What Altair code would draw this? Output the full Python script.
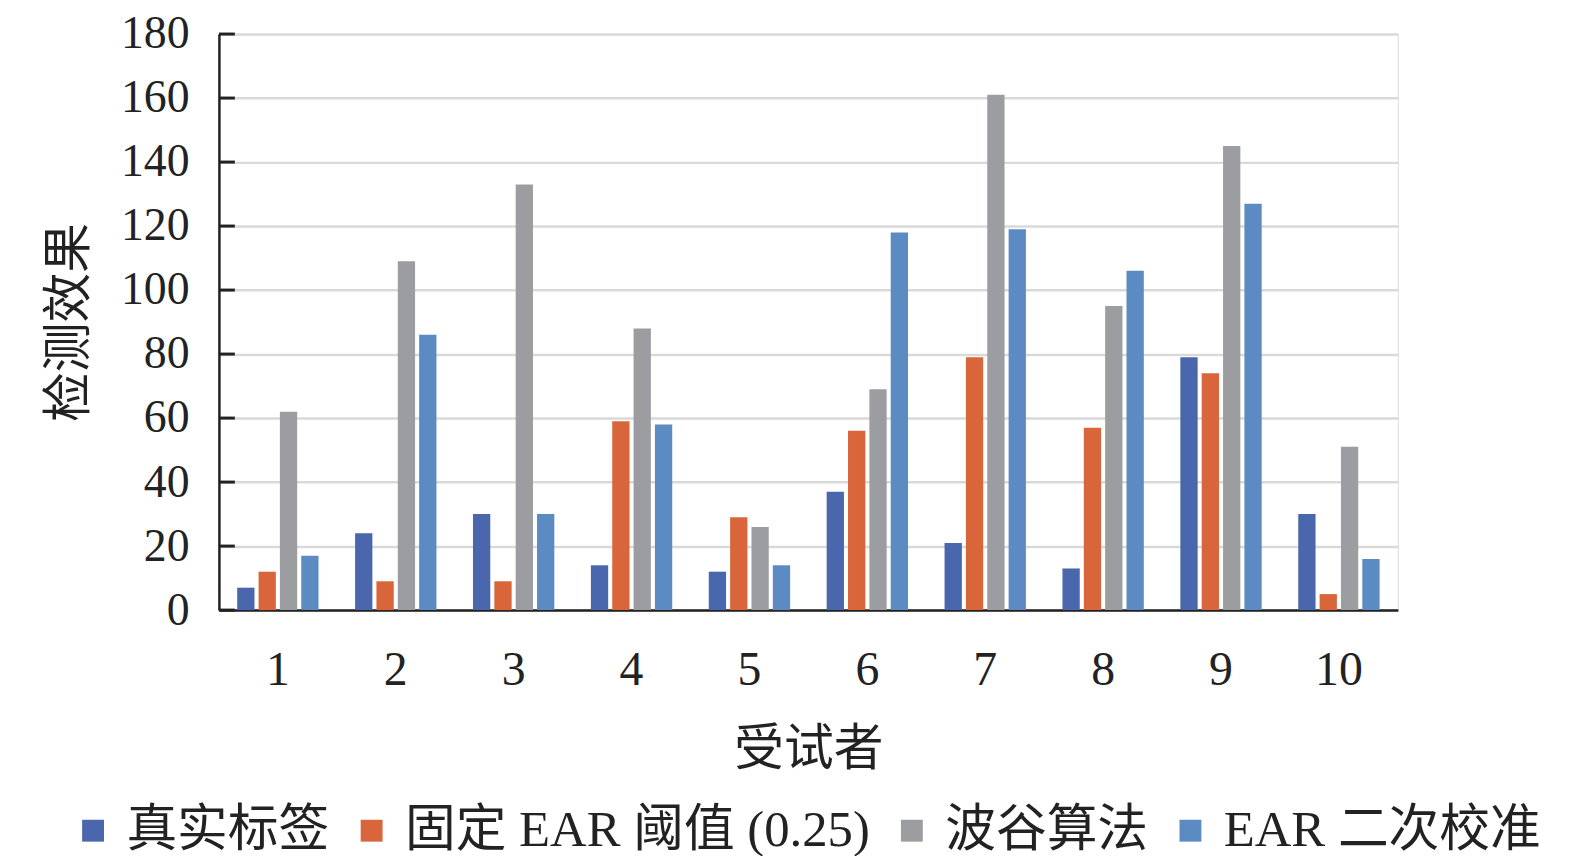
import altair as alt
import pandas as pd

subjects = ["1", "2", "3", "4", "5", "6", "7", "8", "9", "10"]
series = ["真实标签", "固定 EAR 阈值 (0.25)", "波谷算法", "EAR 二次校准"]
true_labels = [7, 24, 30, 14, 12, 37, 21, 13, 79, 30]
fixed_ear = [12, 9, 9, 59, 29, 56, 79, 57, 74, 5]
valley = [62, 109, 133, 88, 26, 69, 161, 95, 145, 51]
ear_recal = [17, 86, 30, 58, 14, 118, 119, 106, 127, 16]
colors = ["#4a66ad", "#d9663a", "#9c9da1", "#5b8bc2"]
y_ticks = [0, 20, 40, 60, 80, 100, 120, 140, 160, 180]

rows = []
for name, vals in zip(series, [true_labels, fixed_ear, valley, ear_recal]):
    for s, v in zip(subjects, vals):
        rows.append({"subject": s, "series": name, "value": v})
df = pd.DataFrame(rows)
ticks_df = pd.DataFrame({"v": y_ticks})

LATIN = "Liberation Serif"
MIXED = "Liberation Serif, Noto Sans CJK SC"
CJK = "Noto Sans CJK SC"

yscale = alt.Scale(domain=[0, 180], nice=False)

bars = alt.Chart(df).mark_bar().encode(
    x=alt.X(
        "subject:N",
        sort=subjects,
        scale=alt.Scale(paddingInner=0.31, paddingOuter=0.155),
        axis=alt.Axis(
            title="受试者",
            titleFont=CJK,
            titleFontSize=50,
            titleFontWeight="normal",
            titleColor="#222222",
            titlePadding=30,
            labelFont=LATIN,
            labelFontSize=48,
            labelColor="#222222",
            labelAngle=0,
            labelPadding=37,
            ticks=False,
            domainColor="#222222",
            domainWidth=2.5,
            grid=False,
        ),
    ),
    xOffset=alt.XOffset("series:N", sort=series, scale=alt.Scale(paddingInner=0.19)),
    y=alt.Y(
        "value:Q",
        scale=yscale,
        axis=alt.Axis(
            values=y_ticks,
            title="检测效果",
            titleFont=CJK,
            titleFontSize=50,
            titleFontWeight="normal",
            titleColor="#222222",
            titlePadding=26,
            labelFont=LATIN,
            labelFontSize=46,
            labelColor="#222222",
            labelPadding=30,
            ticks=False,
            domainColor="#222222",
            domainWidth=2.5,
            grid=True,
            gridColor="#d9d9d9",
            gridWidth=2.5,
        ),
    ),
    color=alt.Color(
        "series:N",
        sort=series,
        scale=alt.Scale(domain=series, range=colors),
        legend=alt.Legend(
            title=None,
            orient="none",
            legendX=-152,
            legendY=775,
            direction="horizontal",
            columns=4,
            symbolType="square",
            symbolSize=484,
            symbolStrokeWidth=0,
            labelFont=MIXED,
            labelFontSize=51,
            labelColor="#222222",
            labelOffset=8,
            columnPadding=16,
            labelLimit=700,
            padding=0,
        ),
    ),
)

tick_marks = alt.Chart(ticks_df).mark_rule(color="#222222", strokeWidth=3).encode(
    y=alt.Y("v:Q", scale=yscale),
    x=alt.value(0),
    x2=alt.value(16),
)

chart = (
    alt.layer(bars, tick_marks)
    .properties(
        width=1185,
        height=579,
        autosize=alt.AutoSizeParams(type="none"),
        padding={"left": 212, "top": 24, "right": 170, "bottom": 245},
    )
    .configure_view(stroke=None)
    .configure(background="white")
)

chart.save("out.html", embed_options={"renderer": "svg", "actions": False})
